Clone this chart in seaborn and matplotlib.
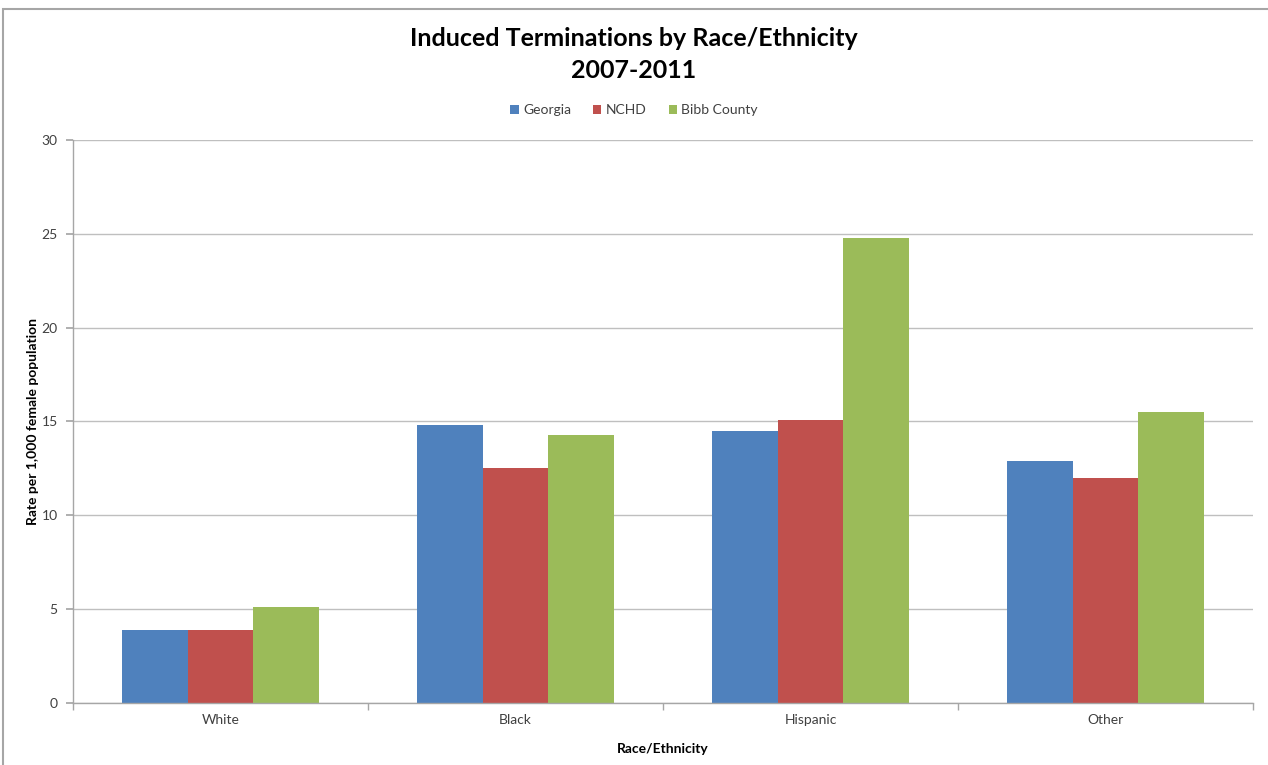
import numpy as np
import pandas as pd
import matplotlib
matplotlib.use("Agg")
import matplotlib.pyplot as plt
import seaborn as sns
from matplotlib.patches import Rectangle

categories = ["White", "Black", "Hispanic", "Other"]
series_names = ["Georgia", "NCHD", "Bibb County"]
georgia = [3.9, 14.8, 14.5, 12.9]
nchd = [3.9, 12.5, 15.1, 12.0]
bibb = [5.1, 14.3, 24.8, 15.5]
colors = ["#4F81BD", "#C0504D", "#9BBB59"]

df = pd.DataFrame({
    "Race/Ethnicity": categories * 3,
    "Series": sum([[s] * len(categories) for s in series_names], []),
    "Rate": georgia + nchd + bibb,
})

sns.set_theme(style="white")
plt.rcParams["font.family"] = ["Lato", "DejaVu Sans"]

fig = plt.figure(figsize=(12.68, 7.65), dpi=100)
ax = fig.add_axes([73 / 1268, 1 - 703 / 765, (1253 - 73) / 1268, (703 - 140) / 765])

sns.barplot(data=df, x="Race/Ethnicity", y="Rate", hue="Series", order=categories,
            hue_order=series_names, palette=colors, width=0.668, saturation=1,
            linewidth=0, ax=ax, legend=True)

ax.set_ylim(0, 30)
ax.set_xlim(-0.5, 3.5)
ax.set_yticks([0, 5, 10, 15, 20, 25, 30])
ax.yaxis.grid(True, color="#BFBFBF", linewidth=1)
ax.set_axisbelow(True)
for s in ["top", "right"]:
    ax.spines[s].set_visible(False)
for s in ["left", "bottom"]:
    ax.spines[s].set_color("#A6A6A6")
    ax.spines[s].set_linewidth(1)

ax.tick_params(axis="y", which="major", length=5, color="#A6A6A6", direction="out",
               labelsize=10, labelcolor="#404040", left=True, pad=6)
ax.tick_params(axis="x", which="major", length=0, labelsize=10, labelcolor="#404040", pad=8)
ax.set_xticks(np.arange(-0.5, 4.0, 1.0), minor=True)
ax.tick_params(axis="x", which="minor", length=5, color="#A6A6A6", direction="out", bottom=True)

ax.set_xlabel("Race/Ethnicity", fontsize=10, fontweight="bold", color="#000000", labelpad=12)
ax.set_ylabel("Rate per 1,000 female population", fontsize=10, fontweight="bold", color="#000000")
ax.yaxis.set_label_coords((39 - 73) / 1180, 0.5)

leg = ax.legend(loc="center", bbox_to_anchor=(0.5, (765 - 110) / 765), bbox_transform=fig.transFigure,
                ncol=3, frameon=False, fontsize=10, handlelength=0.6, handleheight=0.6,
                handletextpad=0.3, columnspacing=1.6)
for t in leg.get_texts():
    t.set_color("#404040")

fig.text(0.5, 1 - 38 / 765, "Induced Terminations by Race/Ethnicity", ha="center", va="center",
         fontsize=18, fontweight="bold", color="black")
fig.text(0.5, 1 - 70 / 765, "2007-2011", ha="center", va="center", fontsize=18, fontweight="bold",
         color="black")

fig.patches.append(Rectangle((3 / 1268, -0.1), 1.2, 1 - 9 / 765 + 0.1, transform=fig.transFigure,
                             fill=False, edgecolor="#A6A6A6", linewidth=1.5))

fig.savefig("out.png", dpi=100, facecolor="white")
